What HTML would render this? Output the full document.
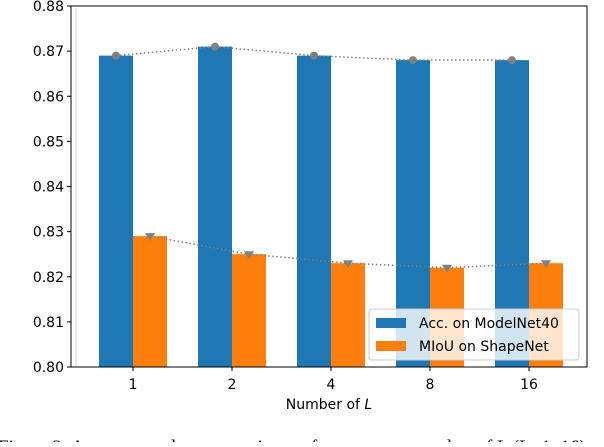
<!DOCTYPE html>
<html><head><style>
body{margin:0;background:#fff;width:604px;height:442px;overflow:hidden}
svg{font-family:"DejaVu Sans","Liberation Sans",sans-serif}
</style></head><body>
<svg id="c" width="604" height="442"></svg>
<script>
const categories=["1","2","4","8","16"];
const accValues=[0.869,0.871,0.869,0.868,0.868];
const miouValues=[0.829,0.825,0.823,0.822,0.823];
const yTicks=[0.80,0.81,0.82,0.83,0.84,0.85,0.86,0.87,0.88];
const seriesNames=["Acc. on ModelNet40","MIoU on ShapeNet"];
const NS="http://www.w3.org/2000/svg";
const svg=document.getElementById('c');
const L=71,R=587,T=6,B=367,y0=0.80,y1=0.88;
const y=v=>B-(v-y0)/(y1-y0)*(B-T);
const x=i=>133+i*99;
const bw=34;
function mk(t,a,p){const e=document.createElementNS(NS,t);for(const k in a)e.setAttribute(k,a[k]);(p||svg).appendChild(e);return e;}
let e;
e=mk('line',{x1:76,x2:76,y1:T+2,y2:B,stroke:'#e0e0e0','stroke-width':1.5});


categories.forEach((c,i)=>{
 e=mk('rect',{x:x(i)-bw,y:y(accValues[i]),width:bw,height:B-y(accValues[i]),fill:'#1f77b4'});
 
 
 e=mk('rect',{x:x(i),y:y(miouValues[i]),width:bw,height:B-y(miouValues[i]),fill:'#ff7f0e'});
 
 
});
e=mk('polyline',{points:accValues.map((v,i)=>(x(i)-bw/2)+','+y(v)).join(' '),fill:'none',stroke:'#808080','stroke-width':1.5,'stroke-dasharray':'1.5,2.5'});


e=mk('polyline',{points:miouValues.map((v,i)=>(x(i)+bw/2)+','+y(v)).join(' '),fill:'none',stroke:'#808080','stroke-width':1.5,'stroke-dasharray':'1.5,2.5'});


accValues.forEach((v,i)=>{
 e=mk('circle',{cx:x(i)-bw/2,cy:y(v),r:4,fill:'#808080'});
 
 
});
miouValues.forEach((v,i)=>{
 const cx=x(i)+bw/2,cy=y(v);
 e=mk('polygon',{points:`${cx-5},${cy-3} ${cx+5},${cy-3} ${cx},${cy+5}`,fill:'#808080'});
 
 
});
e=mk('rect',{x:L,y:T,width:R-L,height:B-T,fill:'none',stroke:'#000','stroke-width':1});


yTicks.forEach(t=>{
 mk('line',{x1:L-4,x2:L,y1:y(t),y2:y(t),stroke:'#000'});
 e=mk('text',{x:L-7,y:y(t)+5,'text-anchor':'end','font-size':14,fill:'#000'});
 e.textContent=t.toFixed(2);
 
 
});
categories.forEach((c,i)=>{
 mk('line',{x1:x(i),x2:x(i),y1:B,y2:B+4,stroke:'#000'});
 e=mk('text',{x:x(i),y:B+22,'text-anchor':'middle','font-size':14,fill:'#000'});
 e.textContent=c;
 
 
});
e=mk('text',{x:329,y:409,'text-anchor':'middle','font-size':14,fill:'#000'});
e.innerHTML='Number of <tspan font-style="italic">L</tspan>';


e=mk('text',{x:-2,y:453,'font-size':19,fill:'#000','font-family':'Liberation Serif, serif'});
e.textContent='Figure 2: Accuracy and segmentation performance vs. number of L (L=1..16)';


const g=mk('g',{});


mk('rect',{x:369,y:309,width:210,height:51,rx:3,fill:'rgba(255,255,255,0.8)',stroke:'#ccc'},g);
const cols=['#1f77b4','#ff7f0e'];
seriesNames.forEach((n,i)=>{
 const gy=318+i*23;
 const le=mk('g',{},g);
 
 
 mk('rect',{x:376,y:gy,width:30,height:10,fill:cols[i]},le);
 const t=mk('text',{x:419,y:gy+10,'font-size':14,fill:'#000'},le);
 t.textContent=n;
});
</script>
</body></html>
